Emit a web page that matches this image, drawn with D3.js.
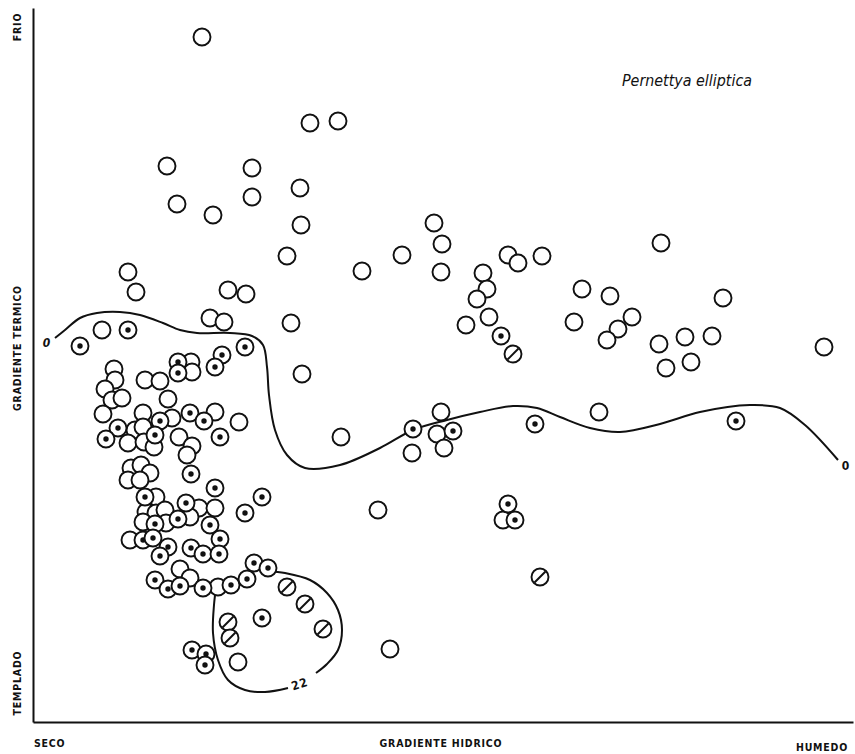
<!DOCTYPE html>
<html>
<head>
<meta charset="utf-8">
<script src="https://cdn.jsdelivr.net/npm/d3@7"></script>
<style>
  html, body { margin: 0; padding: 0; background: #fff; }
  svg { display: block; }
  .lbl { font-family: "DejaVu Sans Condensed", "DejaVu Sans", sans-serif; font-stretch: condensed; font-weight: bold; font-size: 10.5px; letter-spacing: 0.8px; fill: #111; }
</style>
</head>
<body>
<svg id="chart" width="855" height="754"></svg>
<script>
// Positions along the water gradient (x) and the thermal gradient (y), in plot units
const openPoints = [
  [169,685],[277,599],[305,601],[134,556],[219,554],[144,518],[219,525],[267,534],
  [180,507],[268,497],[401,499],[409,478],[628,479],[254,466],[329,451],[369,467],
  [408,450],[475,467],[485,459],[509,466],[450,449],[95,450],[103,430],[195,432],
  [213,428],[454,433],[444,423],[549,433],[577,426],[690,424],[177,404],[191,400],
  [258,399],[433,397],[456,405],[541,400],[599,405],[585,393],[574,382],[652,385],
  [679,386],[626,378],[633,354],[658,360],[791,375],[69,392],[269,348],[566,310],
  [308,285],[408,310],[404,288],[411,274],[379,269],[345,212],[470,202],[357,73],
  [158,360],[159,350],[81,353],[82,342],[112,342],[127,341],[72,333],[79,322],
  [89,324],[135,323],[70,308],[110,309],[139,304],[182,310],[206,300],[102,292],
  [110,295],[95,279],[111,280],[121,275],[146,285],[159,276],[154,267],[98,254],
  [108,257],[117,249],[95,242],[107,242],[123,225],[113,210],[123,209],[132,212],
  [110,200],[133,199],[166,214],[182,214],[157,205],[97,182],[147,153],[157,144],
  [185,135],[205,60]
];
const dotPoints = [
  [468,386],[95,392],[47,376],[212,375],[703,301],[502,298],[380,293],[420,291],
  [475,218],[482,202],[145,360],[145,349],[189,367],[182,355],[127,301],[85,294],
  [73,283],[122,287],[157,309],[171,301],[187,285],[158,248],[182,234],[229,225],
  [212,209],[112,225],[153,219],[145,203],[177,197],[122,198],[110,182],[120,184],
  [135,175],[127,166],[158,174],[170,168],[187,183],[186,168],[122,142],[135,133],
  [147,136],[170,134],[198,137],[214,143],[221,159],[235,154],[229,104],[159,72],
  [173,68],[172,57]
];
const hatchPoints = [
  [480,368],[507,145],[254,135],[272,118],[290,93],[195,100],[197,84]
];
// Isoline "0"
const contourZero = [
  [22,384],[32,392],[47,404],[64,409],[87,410],[107,407],[130,399],[147,392],
  [164,389],[197,389],[219,386],[230,377],[234,355],[236,327],[242,292],[254,267],
  [272,254],[307,257],[347,274],[380,292],[414,302],[447,310],[480,316],[504,314],
  [527,305],[557,294],[587,290],[627,298],[667,310],[717,317],[747,314],[772,297],
  [805,262]
];
// Isoline "22", split where its label sits
const contour22a = [
  [235,151],[252,149],[277,142],[294,129],[305,112],[309,92],[305,72],[294,58],[283,49]
];
const contour22b = [
  [255,34],[232,30],[212,32],[195,42],[185,62],[180,89],[181,117],[183,134]
];
const xEnds = ["SECO", "GRADIENTE HIDRICO", "HUMEDO"];
const yEnds = ["TEMPLADO", "GRADIENTE TERMICO", "FRIO"];
const speciesName = "Pernettya elliptica";

const svg = d3.select("#chart");
const x = d3.scaleLinear().domain([0, 820]).range([33, 853]);
const y = d3.scaleLinear().domain([0, 714]).range([722, 8]);

// Axes as bare lines
svg.append("g").call(d3.axisLeft(y).tickValues([]).tickSizeOuter(0))
  .attr("transform", `translate(${x(0)},0)`)
  .call(g => g.select(".domain").attr("stroke", "#111").attr("stroke-width", 2));
svg.append("g").call(d3.axisBottom(x).tickValues([]).tickSizeOuter(0))
  .attr("transform", `translate(0,${y(0)})`)
  .call(g => g.select(".domain").attr("stroke", "#111").attr("stroke-width", 2));

// Isolines
const line = d3.line().x(d => x(d[0])).y(d => y(d[1])).curve(d3.curveCatmullRom.alpha(0.5));
[contourZero, contour22a, contour22b].forEach(c => {
  svg.append("path").attr("d", line(c)).attr("fill", "none")
    .attr("stroke", "#111").attr("stroke-width", 2);
});

const R = 8.5;
const all = [
  ...openPoints.map(p => ({p, t: "o"})),
  ...dotPoints.map(p => ({p, t: "d"})),
  ...hatchPoints.map(p => ({p, t: "h"}))
];
const g = svg.append("g");
const sym = g.selectAll("g.s").data(all).join("g").attr("class", "s")
  .attr("transform", d => `translate(${x(d.p[0])},${y(d.p[1])})`);
sym.append("circle").attr("r", R).attr("fill", "#fff").attr("stroke", "#111").attr("stroke-width", 1.9);
sym.filter(d => d.t === "d").append("circle").attr("r", 2.7).attr("fill", "#111");
sym.filter(d => d.t === "h").append("line")
  .attr("x1", -5.5).attr("y1", 5.5).attr("x2", 5.5).attr("y2", -5.5)
  .attr("stroke", "#111").attr("stroke-width", 1.9);

// Isoline labels
svg.append("text").attr("class", "lbl").attr("x", x(14)).attr("y", y(375))
  .attr("text-anchor", "middle").attr("font-style", "italic").style("font-size", "12px").text("0");
svg.append("text").attr("class", "lbl").attr("x", x(813)).attr("y", y(252))
  .attr("text-anchor", "middle").style("font-size", "12px").text("0");
svg.append("text").attr("class", "lbl")
  .attr("transform", `translate(${x(268)},${y(34)}) rotate(-18)`)
  .attr("text-anchor", "middle").style("font-size", "12px").text("22");

// Species name
svg.append("text").attr("x", 622).attr("y", 86)
  .attr("font-family", "'DejaVu Sans Condensed', 'DejaVu Sans', sans-serif")
  .attr("font-stretch", "condensed").attr("font-style", "oblique")
  .attr("font-size", 15.5).attr("fill", "#111")
  .attr("textLength", 130).attr("lengthAdjust", "spacingAndGlyphs").text(speciesName);

// Gradient end labels
const xl = svg.append("g");
xl.append("text").attr("class", "lbl").attr("x", 34).attr("y", 747).text(xEnds[0]);
xl.append("text").attr("class", "lbl").attr("x", 441).attr("y", 747).attr("text-anchor", "middle").text(xEnds[1]);
xl.append("text").attr("class", "lbl").attr("x", 822).attr("y", 751).attr("text-anchor", "middle").text(xEnds[2]);
const yl = svg.append("g");
[[683, yEnds[0]], [348, yEnds[1]], [27, yEnds[2]]].forEach(([cy, t]) => {
  yl.append("text").attr("class", "lbl").attr("text-anchor", "middle")
    .attr("transform", `translate(21,${cy}) rotate(-90)`).text(t);
});
</script>
</body>
</html>
